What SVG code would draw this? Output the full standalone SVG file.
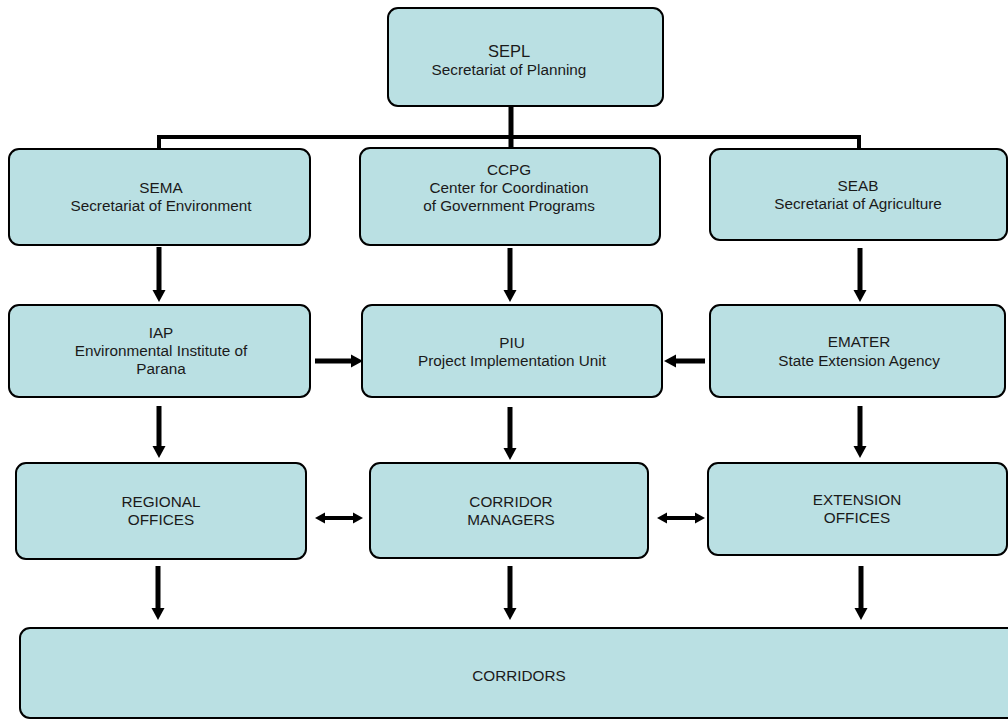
<svg xmlns="http://www.w3.org/2000/svg" width="1008" height="719" viewBox="0 0 1008 719">
<style>
.box{fill:#bae0e3;stroke:#000;stroke-width:2}
text{font-family:"Liberation Sans",Arial,sans-serif;font-size:15.3px;fill:#1a1a1a;text-anchor:middle}
.big{font-size:16.5px}
.sh{stroke:#000;stroke-width:5;fill:none}
.dh{stroke:#000;stroke-width:4;fill:none}
</style>
<defs>
<marker id="ah" markerUnits="userSpaceOnUse" markerWidth="13" markerHeight="14" refX="0" refY="7" orient="auto">
<path d="M0,0.5 L12,7 L0,13.5 z" fill="#000"/>
</marker>
<marker id="dh" markerUnits="userSpaceOnUse" markerWidth="11" markerHeight="13" refX="0" refY="6.5" orient="auto-start-reverse">
<path d="M0,1 L10,6.5 L0,12 z" fill="#000"/>
</marker>
</defs>
<rect width="1008" height="719" fill="#fff"/>
<g id="connectors">
<line x1="511" y1="106" x2="511" y2="148" stroke="#000" stroke-width="5"/>
<path d="M159,149 V137 H859 V149" fill="none" stroke="#000" stroke-width="4"/>
<line class="sh" x1="159" y1="247" x2="159" y2="290" marker-end="url(#ah)"/>
<line class="sh" x1="510" y1="248" x2="510" y2="290" marker-end="url(#ah)"/>
<line class="sh" x1="860" y1="248" x2="860" y2="290" marker-end="url(#ah)"/>
<line class="sh" x1="159" y1="406" x2="159" y2="446" marker-end="url(#ah)"/>
<line class="sh" x1="510" y1="407" x2="510" y2="448" marker-end="url(#ah)"/>
<line class="sh" x1="860" y1="406" x2="860" y2="446" marker-end="url(#ah)"/>
<line class="sh" x1="158" y1="566" x2="158" y2="608" marker-end="url(#ah)"/>
<line class="sh" x1="510" y1="566" x2="510" y2="608" marker-end="url(#ah)"/>
<line class="sh" x1="861" y1="566" x2="861" y2="608" marker-end="url(#ah)"/>
<line class="sh" x1="315" y1="361" x2="351" y2="361" stroke-width="6" marker-end="url(#ah)"/>
<line class="sh" x1="705" y1="361" x2="676" y2="361" stroke-width="6" marker-end="url(#ah)"/>
<line class="dh" x1="325" y1="518" x2="353" y2="518" marker-start="url(#dh)" marker-end="url(#dh)"/>
<line class="dh" x1="667" y1="518" x2="695" y2="518" marker-start="url(#dh)" marker-end="url(#dh)"/>
</g>
<g id="sepl"><rect class="box" x="388" y="8" width="275" height="98" rx="10"/>
<text class="big" x="509" y="57">SEPL</text><text x="509" y="75">Secretariat of Planning</text></g>
<g id="sema"><rect class="box" x="9" y="149" width="301" height="96" rx="10"/>
<text x="161" y="193">SEMA</text><text x="161" y="211">Secretariat of Environment</text></g>
<g id="ccpg"><rect class="box" x="360" y="148" width="300" height="97" rx="10"/>
<text x="509" y="175">CCPG</text><text x="509" y="193">Center for Coordination</text><text x="509" y="211">of Government Programs</text></g>
<g id="seab"><rect class="box" x="710" y="149" width="297" height="91" rx="10"/>
<text x="858" y="191">SEAB</text><text x="858" y="209">Secretariat of Agriculture</text></g>
<g id="iap"><rect class="box" x="9" y="305" width="301" height="92" rx="10"/>
<text x="161" y="338">IAP</text><text x="161" y="356">Environmental Institute of</text><text x="161" y="374">Parana</text></g>
<g id="piu"><rect class="box" x="362" y="305" width="300" height="92" rx="10"/>
<text x="512" y="348">PIU</text><text x="512" y="366">Project Implementation Unit</text></g>
<g id="emater"><rect class="box" x="710" y="305" width="295" height="92" rx="10"/>
<text x="859" y="347">EMATER</text><text x="859" y="366">State Extension Agency</text></g>
<g id="regional"><rect class="box" x="16" y="463" width="290" height="96" rx="10"/>
<text x="161" y="507">REGIONAL</text><text x="161" y="525">OFFICES</text></g>
<g id="managers"><rect class="box" x="370" y="463" width="278" height="95" rx="10"/>
<text x="511" y="507">CORRIDOR</text><text x="511" y="525">MANAGERS</text></g>
<g id="extension"><rect class="box" x="708" y="463" width="299" height="92" rx="10"/>
<text x="857" y="505">EXTENSION</text><text x="857" y="523">OFFICES</text></g>
<g id="corridors"><rect class="box" x="20" y="628" width="1000" height="90" rx="10"/>
<text x="519" y="681">CORRIDORS</text></g>
</svg>
